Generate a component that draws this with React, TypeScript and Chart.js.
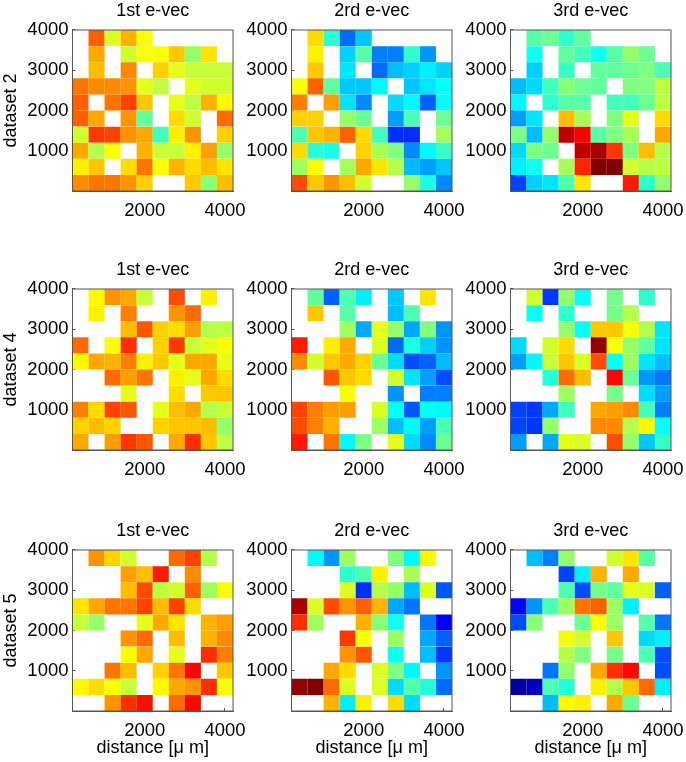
import React, { useEffect, useRef } from "react";
import { Chart, registerables } from "chart.js";

Chart.register(...registerables);

const _ = null;
const xCenters = [400, 800, 1200, 1600, 2000, 2400, 2800, 3200, 3600, 4000];
const yCenters = [3800, 3400, 3000, 2600, 2200, 1800, 1400, 1000, 600, 200];
const xTicks = [2000, 4000];
const yTicks = [1000, 2000, 3000, 4000];
const columnTitles = ["1st e-vec", "2rd e-vec", "3rd e-vec"];
const rowTitles = ["dataset 2", "dataset 4", "dataset 5"];
const xTitle = "distance [\u03bc m]";

const d2e1 = [
  [_, 78, 59, 70, 62, _, _, _, _, _],
  [_, 71, _, 58, 62, 62, 68, 52, 65, _],
  [_, 69, _, 74, _, 67, 60, 57, 57, 57],
  [76, 74, 74, 73, 60, 56, _, 60, 58, 58],
  [78, _, 76, 81, 68, _, 60, 56, 70, 63],
  [78, 71, _, 73, 47, _, 66, 58, _, 77],
  [58, 82, 81, 73, 71, 44, 64, 73, _, 67],
  [71, 55, 62, _, 70, 57, 57, 64, 72, 52],
  [64, 68, _, 66, 76, 62, 70, 66, 69, 65],
  [74, 76, 76, 73, 67, _, _, 68, 51, 69],
];
const d2e2 = [
  [_, 66, 42, 23, 32, _, _, _, _, _],
  [_, 64, _, 33, 46, 25, 25, 42, 27, _],
  [_, 68, _, 35, _, 23, 31, 33, 36, 33],
  [62, 78, 47, 32, 32, 37, _, 32, 35, 38],
  [75, _, 72, 35, 26, _, 34, 37, 22, 38],
  [67, 67, _, 52, 48, _, 28, 45, _, 48],
  [45, 68, 70, 78, 66, 44, 17, 17, _, 54],
  [66, 41, 40, _, 67, 54, 50, 26, 37, 43],
  [53, 62, _, 54, 71, 65, 55, 31, 28, 32],
  [80, 68, 73, 69, 58, _, _, 52, 40, 26],
];
const d2e3 = [
  [_, 46, 48, 42, 47, _, _, _, _, _],
  [_, 39, _, 47, 44, 39, 46, 52, 48, _],
  [_, 33, _, 43, _, 47, 47, 48, 50, 45],
  [31, 34, 44, 51, 48, 47, _, 50, 50, 56],
  [37, _, 42, 46, 46, _, 44, 44, 48, 56],
  [28, 35, _, 69, 54, _, 50, 60, _, 66],
  [50, 31, 52, 94, 88, 46, 50, 54, _, 71],
  [34, 50, 48, _, 94, 96, 82, 50, 69, 55],
  [36, 39, _, 54, 84, 100, 100, 58, 55, 56],
  [19, 33, 35, 45, 65, _, _, 85, 42, 52],
];
const d4e1 = [
  [_, 63, 73, 71, 57, _, 80, _, 64, _],
  [_, 64, _, 75, _, _, 73, 77, _, _],
  [_, _, _, 69, 79, 67, 66, 72, 55, 56],
  [77, _, 62, 83, _, 67, 82, 57, 60, 62],
  [63, 71, 70, 75, 64, 68, 60, 71, 71, 60],
  [_, _, 77, 72, 76, _, 64, 60, 71, 66],
  [_, _, _, 60, _, _, 66, _, 68, 68],
  [75, 66, 81, 79, _, 60, 69, 71, 55, 57],
  [67, 69, 67, _, _, 67, 68, 68, 69, 52],
  [71, _, 72, 82, 79, _, 71, 83, 68, 56],
];
const d4e2 = [
  [_, 47, 22, 45, 36, _, 32, _, 65, _],
  [_, 68, _, 46, _, _, 31, 45, _, _],
  [_, _, _, 53, 29, 60, 52, 29, 50, 27],
  [85, _, 64, 71, _, 59, 23, 40, 33, 27],
  [74, 58, 68, 71, 67, 48, 34, 20, 22, 31],
  [_, _, 79, 68, 66, _, 58, 35, 28, 20],
  [_, _, _, 62, _, _, 27, _, 25, 25],
  [81, 75, 72, 72, _, 59, 38, 21, 38, 37],
  [80, 75, 70, _, _, 53, 31, 37, 28, 45],
  [85, _, 76, 37, 50, _, 60, 34, 26, 48],
];
const d4e3 = [
  [_, 58, 18, 52, 38, _, 49, _, 42, _],
  [_, 38, _, 42, _, _, 49, 55, _, _],
  [_, _, _, 52, 38, 68, 68, 62, 55, 35],
  [34, _, 58, 66, _, 98, 62, 52, 47, 35],
  [28, 37, 57, 68, 59, 80, 38, 53, 35, 31],
  [_, _, 41, 77, 69, _, 87, 48, 27, 24],
  [_, _, _, 53, _, _, 49, _, 34, 28],
  [19, 18, 29, 44, _, 71, 72, 74, 44, 25],
  [19, 18, 52, _, _, 74, 74, 55, 63, 38],
  [28, _, 29, 60, 59, _, 80, 52, 32, 43],
];
const d5e1 = [
  [_, 73, 67, 58, _, _, 77, 81, 55, _],
  [_, _, _, 72, 69, 85, _, 74, _, _],
  [_, _, _, 69, 80, 56, 58, 78, 53, 62],
  [65, 71, 76, 76, 81, 69, 81, 66, _, _],
  [57, 52, _, _, 60, 71, 65, _, 70, 72],
  [_, _, _, 73, 77, _, 69, _, 70, 74],
  [_, _, _, 62, 71, _, 60, _, 83, 75],
  [_, _, 76, 69, _, 67, 76, 87, _, 68],
  [63, 66, 62, 57, _, 63, 71, 73, 83, 62],
  [_, _, 73, 83, 86, _, 77, 87, _, _],
];
const d5e2 = [
  [_, 37, 27, 53, _, _, 50, 37, 63, _],
  [_, _, _, 42, 45, 64, _, 54, _, _],
  [_, _, _, 59, 17, 55, 52, 31, 59, 21],
  [96, 59, 80, 73, 78, 70, 29, 24, _, _],
  [83, 53, _, _, 70, 51, 39, _, 24, 12],
  [_, _, _, 82, 62, _, 53, _, 29, 22],
  [_, _, _, 73, 79, _, 39, _, 31, 18],
  [_, _, 71, 66, _, 59, 50, 37, _, 27],
  [98, 100, 77, 59, _, 59, 34, 46, 41, 23],
  [_, _, 70, 36, 64, _, 66, 34, _, _],
];
const d5e3 = [
  [_, 31, 25, 52, _, _, 58, 65, 46, _],
  [_, _, _, 19, 36, 70, _, 71, _, _],
  [_, _, _, 45, 20, 49, 47, 60, 59, 22],
  [13, 27, 45, 53, 76, 78, 53, 36, _, _],
  [20, 51, _, _, 48, 62, 53, _, 46, 24],
  [_, _, _, 61, 58, _, 68, _, 34, 36],
  [_, _, _, 55, 50, _, 49, _, 45, 20],
  [_, _, 24, 52, _, 71, 83, 87, _, 20],
  [3, 6, 45, 41, _, 64, 55, 68, 77, 36],
  [_, _, 31, 63, 64, _, 71, 48, _, _],
];
const panels = [
  [d2e1, d2e2, d2e3],
  [d4e1, d4e2, d4e3],
  [d5e1, d5e2, d5e3],
];

const canvasLefts = [0, 219, 438];
const canvasTops = [0, 259, 520];
const yAxisWidth = 72.5;
const titleBand = 30;
const boxW = 160.5;
const boxH = 161;
const rightPad = 14;
const bottomBand = 50;
const FONT = "'Liberation Sans', Arial, sans-serif";

function jet(v: number) {
  const t = v / 100;
  const ramp = (c: number) =>
    Math.round(255 * Math.max(0, Math.min(1, 1.5 - Math.abs(4 * t - c))));
  return `rgb(${ramp(3)},${ramp(2)},${ramp(1)})`;
}

const frame = {
  id: "frame",
  afterDraw(chart: any) {
    const { ctx, chartArea: a } = chart;
    ctx.save();
    ctx.strokeStyle = "#555";
    ctx.lineWidth = 1;
    ctx.strokeRect(a.left, a.top, a.right - a.left, a.bottom - a.top);
    ctx.restore();
  },
};

const noPadding = (s: any) => {
  s.paddingLeft = 0;
  s.paddingRight = 0;
  s.paddingTop = 0;
  s.paddingBottom = 0;
};

function Panel({ row, col }: { row: number; col: number }) {
  const ref = useRef<HTMLCanvasElement>(null);
  useEffect(() => {
    const points: any[] = [];
    const colors: string[] = [];
    panels[row][col].forEach((vals, r) =>
      vals.forEach((v, c) => {
        if (v !== null) {
          points.push({ x: xCenters[c], y: yCenters[r] });
          colors.push(jet(v));
        }
      })
    );
    const tickFont = { family: FONT, size: 18.5 };
    const gridOpts = {
      drawOnChartArea: false,
      drawTicks: true,
      tickLength: -3,
      color: "#555",
      lineWidth: 1,
    };
    const chart = new Chart(ref.current!, {
      type: "scatter",
      data: {
        datasets: [
          {
            data: points,
            pointStyle: "rect",
            backgroundColor: colors,
            pointBackgroundColor: colors,
            borderWidth: 0,
            pointBorderWidth: 0,
            pointRadius: (ctx: any) => {
              const x = ctx.chart.scales.x;
              return Math.abs(x.getPixelForValue(400) - x.getPixelForValue(0)) / Math.SQRT2;
            },
          },
        ],
      },
      options: {
        animation: false,
        responsive: false,
        events: [],
        layout: { autoPadding: false, padding: { right: rightPad, top: 0.4 } },
        plugins: {
          legend: { display: false },
          tooltip: { enabled: false },
          title: {
            display: true,
            text: columnTitles[col],
            fullSize: false,
            color: "#000",
            font: { family: FONT, size: 18, weight: "normal" },
            padding: { top: 0, bottom: 8 },
          },
        },
        scales: {
          x: {
            type: "linear",
            min: 200,
            max: 4200,
            afterBuildTicks: (s: any) => {
              s.ticks = xTicks.map((value) => ({ value }));
            },
            afterFit: (s: any) => {
              s.height = bottomBand;
              noPadding(s);
            },
            grid: gridOpts,
            border: { color: "#555" },
            ticks: {
              color: "#000",
              font: tickFont,
              padding: 12,
              maxRotation: 0,
              autoSkip: false,
              callback: (v: any) => String(v),
            },
            title: {
              display: row === 2,
              text: xTitle,
              color: "#000",
              font: { family: FONT, size: 18 },
              padding: { top: 0, bottom: 2 },
            },
          },
          y: {
            type: "linear",
            min: 0,
            max: 4000,
            afterBuildTicks: (s: any) => {
              s.ticks = yTicks.map((value) => ({ value }));
            },
            afterFit: (s: any) => {
              s.width = yAxisWidth;
              noPadding(s);
            },
            grid: gridOpts,
            border: { color: "#555" },
            ticks: {
              color: "#000",
              font: tickFont,
              padding: 7,
              autoSkip: false,
              callback: (v: any) => String(v),
            },
            title: {
              display: col === 0,
              text: rowTitles[row],
              color: "#000",
              font: { family: FONT, size: 18 },
              padding: 0,
            },
          },
        },
      } as any,
      plugins: [frame],
    } as any);
    return () => chart.destroy();
  }, [row, col]);
  const w = yAxisWidth + boxW + rightPad;
  const h = titleBand + boxH + bottomBand;
  return (
    <canvas
      ref={ref}
      width={Math.ceil(w)}
      height={h}
      style={{
        position: "absolute",
        left: canvasLefts[col],
        top: canvasTops[row],
        width: Math.ceil(w),
        height: h,
      }}
    />
  );
}

export default function App() {
  return (
    <div
      style={{
        position: "absolute",
        left: 0,
        top: 0,
        width: 686,
        height: 762,
        overflow: "hidden",
        background: "#fff",
      }}
    >
      {[0, 1, 2].map((row) =>
        [0, 1, 2].map((col) => <Panel key={`${row}-${col}`} row={row} col={col} />)
      )}
    </div>
  );
}
